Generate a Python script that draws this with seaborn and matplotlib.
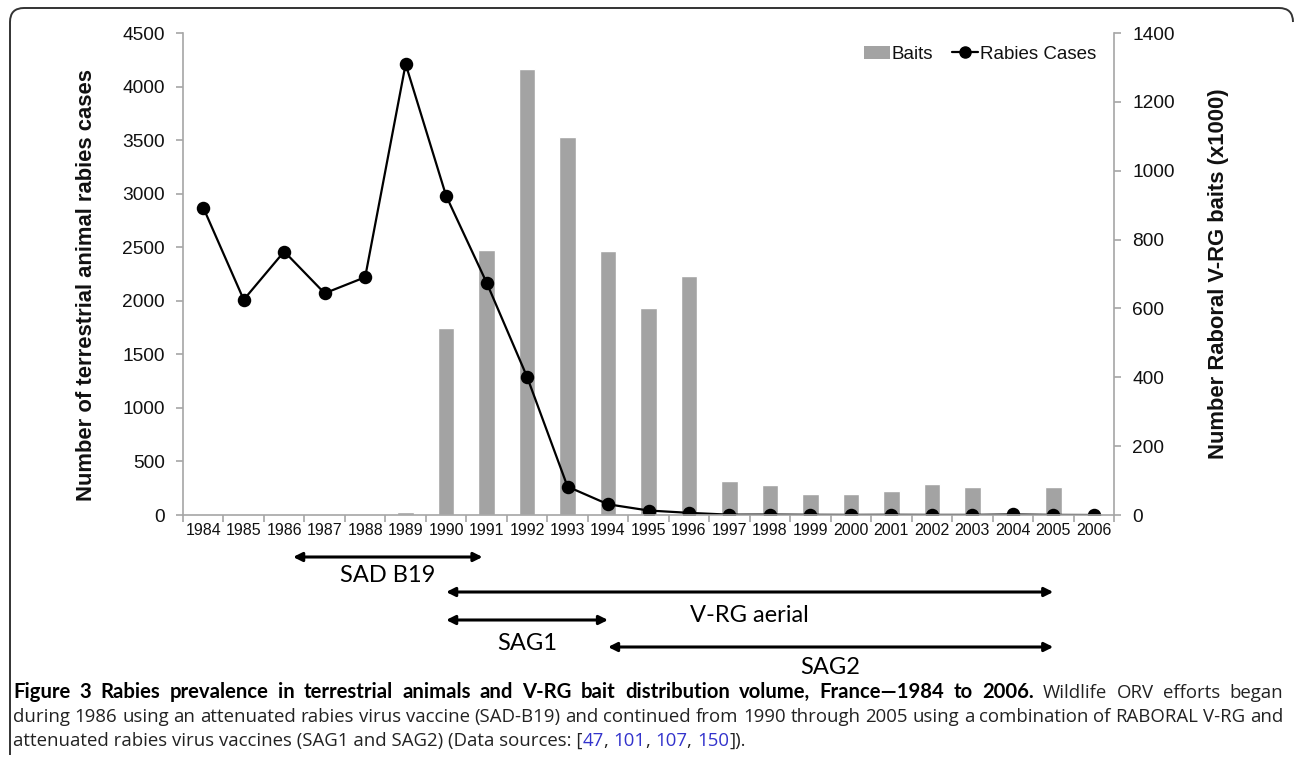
import numpy as np
import pandas as pd
import matplotlib
matplotlib.use("Agg")
import matplotlib.pyplot as plt
import seaborn as sns
from matplotlib.patches import Patch, PathPatch
from matplotlib.lines import Line2D
from matplotlib.path import Path
from matplotlib.transforms import blended_transform_factory

# ---------------- data ----------------
years = [str(y) for y in range(1984, 2007)]
rabies_cases = [2870, 2010, 2460, 2070, 2220, 4210, 2980, 2170, 1290, 265, 100,
                42, 20, 3, 4, 2, 1, 2, 1, 1, 5, 1, 0]
baits_k = [0, 0, 0, 0, 0, 10, 544, 771, 1296, 1099, 767, 601, 695, 100, 87,
           61, 61, 71, 90, 82, 0, 82, 0]
left_ticks = list(range(0, 4501, 500))
right_ticks = list(range(0, 1401, 200))
programs = ["SAD B19", "V-RG aerial", "SAG1", "SAG2"]
prog_start = ["1986", "1990", "1990", "1994"]
prog_end = ["1991", "2005", "1994", "2005"]

# ---------------- style ----------------
sns.set_theme(style="white")
plt.rcParams["font.family"] = ["Liberation Sans", "DejaVu Sans"]

W, H = 1295, 763
fig = plt.figure(figsize=(W / 100, H / 100), dpi=100)
fig.patch.set_facecolor("white")

def fx(px):
    return px / W

def fy(py):
    return 1 - py / H

ax_l, ax_r, ax_t, ax_b = 183, 1114, 33, 515
ax = fig.add_axes([fx(ax_l), fy(ax_b), fx(ax_r - ax_l), (ax_b - ax_t) / H])
ax2 = ax.twinx()

spine_c = "#a6a6a6"
text_c = "#111111"

df = pd.DataFrame({"year": years, "cases": rabies_cases, "baits": baits_k})

sns.barplot(data=df, x="year", y="baits", ax=ax2, color="#a3a3a3",
            saturation=1, width=0.41, order=years)
sns.pointplot(data=df, x="year", y="cases", ax=ax, color="black",
              markers="o", order=years, markersize=8.5, linewidth=1.6)

ax.set_zorder(ax2.get_zorder() + 1)
ax.patch.set_visible(False)

for a in (ax, ax2):
    a.set_xlim(-0.5, len(years) - 0.5)
    for s in a.spines.values():
        s.set_color(spine_c)
        s.set_linewidth(1.2)
    a.spines["top"].set_visible(False)
ax.spines["right"].set_visible(False)
ax2.spines["left"].set_visible(False)
ax2.spines["bottom"].set_visible(False)

ax.set_ylim(0, 4500)
ax.set_yticks(left_ticks)
ax.set_yticklabels([str(v) for v in left_ticks])
ax2.set_ylim(0, 1400)
ax2.set_yticks(right_ticks)
ax2.set_yticklabels([str(v) for v in right_ticks])

ax.set_xticks(range(len(years)))
ax.set_xticklabels(years)
ax.set_xticks(np.arange(-0.5, len(years)), minor=True)
ax.tick_params(axis="x", which="major", length=0, pad=6, labelsize=11.5,
               labelcolor=text_c)
ax.tick_params(axis="x", which="minor", length=5, width=1.2, color=spine_c,
               direction="out", bottom=True)
ax.tick_params(axis="y", which="major", length=5, width=1.2, color=spine_c,
               direction="out", left=True, pad=8, labelsize=13.8,
               labelcolor=text_c)
ax2.tick_params(axis="y", which="major", length=5, width=1.2, color=spine_c,
                direction="out", right=True, pad=8, labelsize=13.8,
                labelcolor=text_c)

ax.set_xlabel("")
ax.set_ylabel("Number of terrestrial animal rabies cases", fontsize=15.8,
              fontweight="bold", color=text_c)
ax.yaxis.set_label_coords((97 - ax_l) / (ax_r - ax_l), 0.478)
ax2.set_ylabel("Number Raboral V-RG baits (x1000)", fontsize=15.8,
               fontweight="bold", color=text_c, rotation=90)
ax2.yaxis.set_label_coords((1208 - ax_l) / (ax_r - ax_l), 0.5)

handles = [Patch(facecolor="#a3a3a3", edgecolor="none"),
           Line2D([], [], color="black", marker="o", markersize=8, lw=1.6)]
leg = fig.legend(handles, ["Baits", "Rabies Cases"], ncol=2, frameon=False,
                 loc="upper right", bbox_to_anchor=(fx(1104), fy(38)),
                 fontsize=13.5, handlelength=1.4, handletextpad=0.1,
                 columnspacing=1.0, borderaxespad=0)
for t in leg.get_texts():
    t.set_color(text_c)

# ---------------- program arrows ----------------
arrow_y = [557, 592, 620, 647]
label_off = [19, 23, 23, 21]
trans = blended_transform_factory(ax.transData, fig.transFigure)
for name, s, e, py, off in zip(programs, prog_start, prog_end, arrow_y, label_off):
    xs, xe = years.index(s), years.index(e)
    if name == "SAD B19":
        xs, xe = xs + 0.22, xe - 0.1
    ax.annotate("", xy=(xe, fy(py)), xytext=(xs, fy(py)),
                xycoords=trans, textcoords=trans, annotation_clip=False,
                arrowprops=dict(arrowstyle="<|-|>", lw=2.2, color="black",
                                mutation_scale=13, shrinkA=0, shrinkB=0))
    ax.text((xs + xe) / 2, fy(py + off), name, transform=trans, ha="center",
            va="center", fontsize=17, family=["Lato", "DejaVu Sans"],
            color="black")

# ---------------- frame ----------------
r = 14
verts = [(fx(10), fy(755)), (fx(10), fy(8 + r)), (fx(10), fy(8)),
         (fx(10 + r), fy(8)), (fx(1293 - r), fy(8)), (fx(1293), fy(8)),
         (fx(1293), fy(8 + r))]
codes = [Path.MOVETO, Path.LINETO, Path.CURVE3, Path.CURVE3, Path.LINETO,
         Path.CURVE3, Path.CURVE3]
fig.patches.append(PathPatch(Path(verts, codes), transform=fig.transFigure,
                             fill=False, edgecolor="#333333", lw=1.4))

# ---------------- caption ----------------
reg_font = ["Open Sans", "DejaVu Sans"]
bold_font = ["Lato", "DejaVu Sans"]
renderer = fig.canvas.get_renderer()
blk, blue = "#222222", "#3333cc"
rs, bs = 13.45, 14.6
x_left, x_right = 13, 1283


def make_text(txt, weight, col, size, base_y, x):
    fam = bold_font if weight == "bold" else reg_font
    return fig.text(fx(x), fy(base_y), txt, ha="left", va="baseline",
                    fontsize=size, fontweight=weight, color=col, family=fam)


def justify_line(pieces, base_y):
    """pieces: list of (text, weight, color, size); words are spread to the full width."""
    words = []
    for txt, weight, col, size in pieces:
        for w in txt.split(" "):
            if w:
                words.append((w, weight, col, size))
    objs, widths = [], []
    for w, weight, col, size in words:
        t = make_text(w, weight, col, size, base_y, x_left)
        objs.append(t)
        widths.append(t.get_window_extent(renderer=renderer).width)
    gap = (x_right - x_left - sum(widths)) / (len(words) - 1)
    x = x_left
    for t, wdt in zip(objs, widths):
        t.set_x(fx(x))
        x += wdt + gap


def place_line(pieces, base_y):
    x = x_left
    for txt, weight, col, size in pieces:
        t = make_text(txt, weight, col, size, base_y, x)
        x += t.get_window_extent(renderer=renderer).width


justify_line([("Figure 3  Rabies prevalence in terrestrial animals and V-RG bait "
               "distribution volume, France\u20141984 to 2006.", "bold", "black", bs),
              ("Wildlife ORV efforts began", "normal", blk, rs)], 698)
justify_line([("during 1986 using an attenuated rabies virus vaccine (SAD-B19) and "
               "continued from 1990 through 2005 using a combination of RABORAL V-RG and",
               "normal", blk, rs)], 722)
place_line([("attenuated rabies virus vaccines (SAG1 and SAG2) (Data sources: [",
             "normal", blk, rs), ("47", "normal", blue, rs), (", ", "normal", blk, rs),
            ("101", "normal", blue, rs), (", ", "normal", blk, rs),
            ("107", "normal", blue, rs), (", ", "normal", blk, rs),
            ("150", "normal", blue, rs), ("]).", "normal", blk, rs)], 746)

fig.savefig("out.png", dpi=100, facecolor="white")
